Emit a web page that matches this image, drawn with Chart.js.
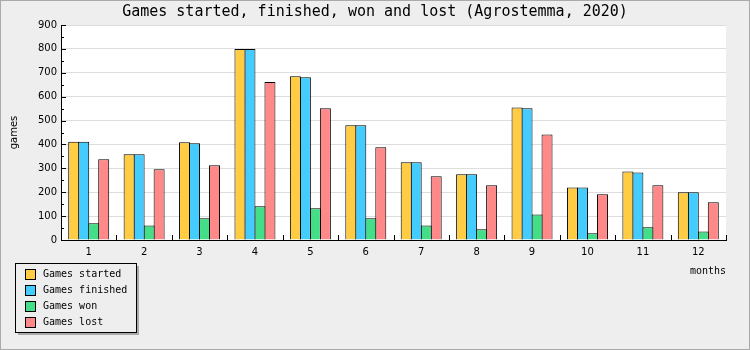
<!DOCTYPE html>
<html>
<head>
<meta charset="utf-8">
<script src="https://cdn.jsdelivr.net/npm/chart.js@4"></script>
<style>
	html, body { margin: 0; padding: 0; background: #eeeeee; }
	#wrap { width: 750px; height: 350px; position: relative; }
</style>
</head>
<body>
<div id="wrap"><canvas id="chart" width="750" height="350"></canvas></div>
<script>
const months = ['1', '2', '3', '4', '5', '6', '7', '8', '9', '10', '11', '12'];
const started = [411, 359, 409, 800, 685, 480, 325, 275, 555, 220, 287, 200];
const finished = [411, 359, 405, 800, 681, 480, 325, 275, 551, 220, 283, 200];
const won = [70, 61, 91, 141, 133, 91, 61, 45, 107, 28, 53, 36];
const lost = [338, 296, 313, 661, 551, 388, 267, 229, 442, 191, 229, 158];

const seriesNames = ['Games started', 'Games finished', 'Games won', 'Games lost'];
const seriesColors = ['#ffcc44', '#44ccff', '#44dd88', '#ff8888'];
const titleText = 'Games started, finished, won and lost (Agrostemma, 2020)';

const mono = '"DejaVu Sans Mono", "Liberation Mono", monospace';
const sans = '"DejaVu Sans", sans-serif';

// background, frame, title, inner ticks and legend box
const decor = {
	id: 'decor',
	beforeDraw(chart) {
		const c = chart.ctx;
		c.save();
		c.fillStyle = '#eeeeee';
		c.fillRect(0, 0, chart.width, chart.height);
		const a = chart.chartArea;
		c.fillStyle = '#ffffff';
		c.fillRect(a.left, a.top, a.right - a.left, a.bottom - a.top);
		c.restore();
	},
	afterDraw(chart) {
		const c = chart.ctx;
		const a = chart.chartArea;
		const xs = chart.scales.x;
		const ys = chart.scales.y;
		c.save();

		// frame
		c.strokeStyle = '#aaaaaa';
		c.lineWidth = 1;
		c.strokeRect(0.5, 0.5, chart.width - 1, chart.height - 1);

		// title
		c.fillStyle = '#000';
		c.font = '15px ' + mono;
		c.textAlign = 'center';
		c.textBaseline = 'middle';
		c.fillText(titleText, chart.width / 2, 12);

		// ticks pointing into the plot
		c.strokeStyle = '#000';
		c.beginPath();
		for (let v = 0; v <= 900; v += 50) {
			const y = Math.round(ys.getPixelForValue(v)) + 0.5;
			const len = v % 100 === 0 ? 5 : 3;
			c.moveTo(a.left, y);
			c.lineTo(a.left + len, y);
		}
		for (let i = 1; i <= months.length; i++) {
			const x = Math.round(xs.getPixelForValue(i - 0.5)) + 0.5;
			c.moveTo(x, a.bottom);
			c.lineTo(x, a.bottom - 5);
		}
		c.stroke();

		// legend
		const lx = 15, ly = 263, lw = 121, lh = 69;
		c.fillStyle = '#aaaaaa';
		c.fillRect(lx + 3, ly + 3, lw, lh);
		c.fillStyle = '#eeeeee';
		c.fillRect(lx, ly, lw, lh);
		c.strokeStyle = '#000';
		c.strokeRect(lx + 0.5, ly + 0.5, lw, lh);
		c.font = '10px ' + mono;
		c.textAlign = 'left';
		c.textBaseline = 'middle';
		chart.data.datasets.forEach((ds, i) => {
			const y = ly + 6 + i * 16;
			c.fillStyle = ds.backgroundColor;
			c.fillRect(lx + 10, y, 10, 10);
			c.strokeRect(lx + 10.5, y + 0.5, 10, 10);
			c.fillStyle = '#000';
			c.fillText(ds.label, lx + 28, y + 5.5);
		});
		c.restore();
	}
};

// bars are 1px wider than their slot so neighbouring borders overlap
const datasets = [started, finished, won, lost].map((values, i) => ({
	label: seriesNames[i],
	data: values,
	backgroundColor: seriesColors[i],
	borderColor: '#000',
	borderWidth: 1,
	borderSkipped: 'bottom',
	categoryPercentage: 0.7218,
	barPercentage: 1.1
}));

new Chart(document.getElementById('chart').getContext('2d'), {
	type: 'bar',
	data: { labels: months, datasets: datasets },
	options: {
		responsive: false,
		animation: false,
		layout: { padding: { top: 25, right: 24, left: 0, bottom: 0 } },
		plugins: {
			legend: { display: false },
			title: { display: false },
			tooltip: { enabled: false }
		},
		scales: {
			x: {
				grid: { display: false, drawTicks: false },
				border: { display: true, color: '#000', width: 1 },
				ticks: { color: '#000', font: { family: sans, size: 10 }, padding: 6, maxRotation: 0, autoSkip: false },
				title: { display: true, text: 'months', align: 'end', color: '#000', font: { family: mono, size: 10 }, padding: { top: 0, bottom: 73 } },
				afterFit(scale) { scale.height = 110; }
			},
			y: {
				min: 0,
				max: 900,
				ticks: { stepSize: 100, color: '#000', font: { family: sans, size: 10 }, padding: 4 },
				grid: { color: '#dddddd', drawTicks: false },
				border: { display: true, color: '#000', width: 1 },
				title: { display: true, text: 'games', color: '#000', font: { family: sans, size: 10 }, padding: { top: 8, bottom: 0 } },
				afterFit(scale) { scale.width = 61; }
			}
		}
	},
	plugins: [decor]
});
</script>
</body>
</html>
